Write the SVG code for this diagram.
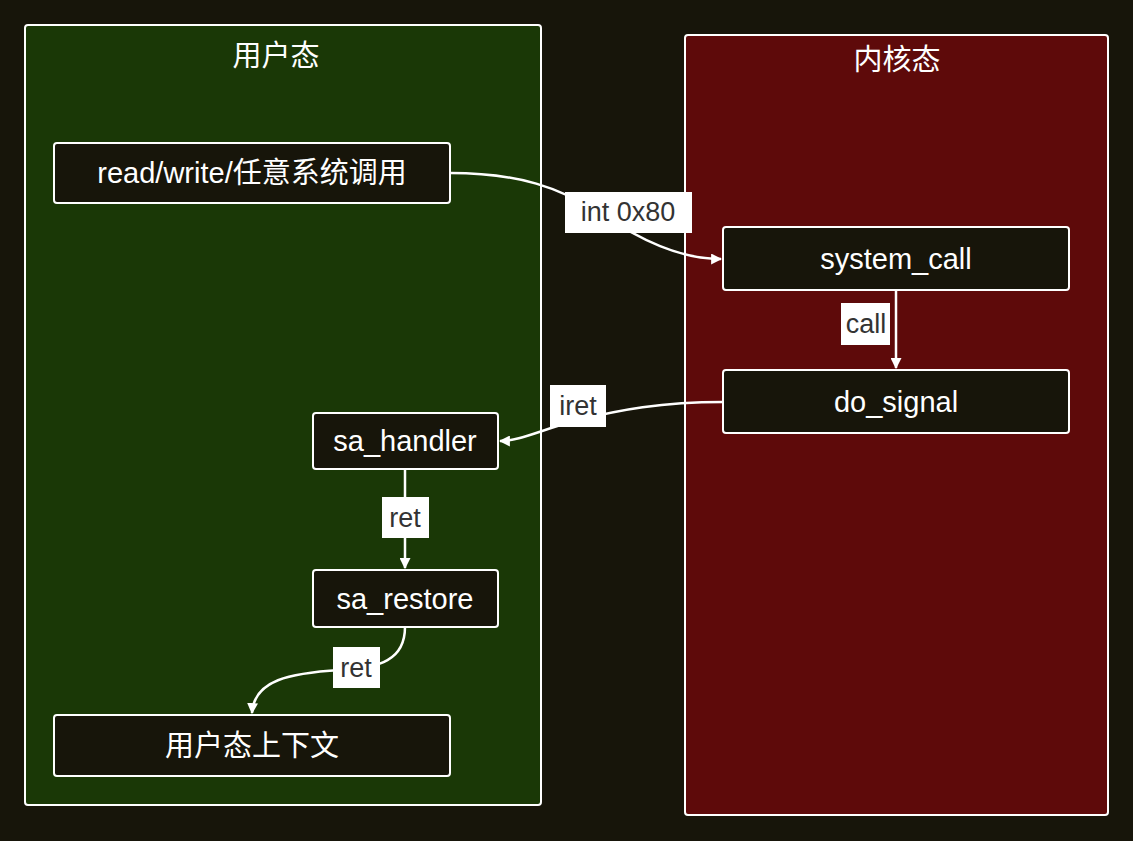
<svg xmlns="http://www.w3.org/2000/svg" width="1133" height="841" viewBox="0 0 1133 841">
<defs>
<style>
.cl{stroke:#ffffff;stroke-width:2}
.nd{fill:#17150a;stroke:#ffffff;stroke-width:2}
.t{font-family:"Liberation Sans","Noto Sans CJK SC",sans-serif;font-size:29px;fill:#ffffff;text-anchor:middle;dominant-baseline:central}
.ti{font-family:"Liberation Sans","Noto Sans CJK SC",sans-serif;font-size:29px;fill:#ffffff;text-anchor:middle;dominant-baseline:central}
.e{fill:none;stroke:#ffffff;stroke-width:2.5}
.lb{fill:#ffffff}
.lt{font-family:"Liberation Sans","Noto Sans CJK SC",sans-serif;font-size:27px;fill:#333333;text-anchor:middle;dominant-baseline:central}
</style>
<marker id="ah" viewBox="0 0 10 10" refX="9" refY="5" markerWidth="11" markerHeight="11" orient="auto" markerUnits="userSpaceOnUse">
<path d="M0,0 L10,5 L0,10 z" fill="#ffffff"/>
</marker>
</defs>
<rect width="1133" height="841" fill="#17150a"/>
<g id="user">
<rect class="cl" x="25" y="25" width="516" height="780" rx="3" fill="#1a3806"/>
<text class="ti" x="276" y="56">用户态</text>
</g>
<g id="kernel">
<rect class="cl" x="685" y="35" width="423" height="780" rx="3" fill="#5e0a0a"/>
<text class="ti" x="897" y="60">内核态</text>
</g>
<g id="edges">
<path class="e" d="M450,173 C520,173 560,188 600,213 C640,240 680,259 721,259" marker-end="url(#ah)"/>
<path class="e" d="M896,290 L896,368" marker-end="url(#ah)"/>
<path class="e" d="M723,402 C660,402 620,410 578,420 C540,430 520,441 500,441" marker-end="url(#ah)"/>
<path class="e" d="M405,469 L405,568" marker-end="url(#ah)"/>
<path class="e" d="M405,627 C405,660 380,668 340,670 C290,673 254,680 252,713" marker-end="url(#ah)"/>
<rect class="lb" x="565" y="192" width="127" height="41"/>
<text class="lt" x="628" y="212">int 0x80</text>
<rect class="lb" x="841" y="303" width="49" height="42"/>
<text class="lt" x="866" y="324">call</text>
<rect class="lb" x="550" y="385" width="56" height="42"/>
<text class="lt" x="578" y="406">iret</text>
<rect class="lb" x="382" y="497" width="47" height="41"/>
<text class="lt" x="405" y="518">ret</text>
<rect class="lb" x="333" y="647" width="47" height="41"/>
<text class="lt" x="356" y="668">ret</text>
</g>
<g id="n_rw">
<rect class="nd" x="54" y="143" width="396" height="60" rx="3"/>
<text class="t" x="252" y="173">read/write/任意系统调用</text>
</g>
<g id="n_sc">
<rect class="nd" x="723" y="227" width="346" height="63" rx="3"/>
<text class="t" x="896" y="259">system_call</text>
</g>
<g id="n_ds">
<rect class="nd" x="723" y="370" width="346" height="63" rx="3"/>
<text class="t" x="896" y="402">do_signal</text>
</g>
<g id="n_sh">
<rect class="nd" x="313" y="413" width="185" height="56" rx="3"/>
<text class="t" x="405" y="441">sa_handler</text>
</g>
<g id="n_sr">
<rect class="nd" x="313" y="570" width="185" height="57" rx="3"/>
<text class="t" x="405" y="599">sa_restore</text>
</g>
<g id="n_ctx">
<rect class="nd" x="54" y="715" width="396" height="61" rx="3"/>
<text class="t" x="252" y="746">用户态上下文</text>
</g>
</svg>
